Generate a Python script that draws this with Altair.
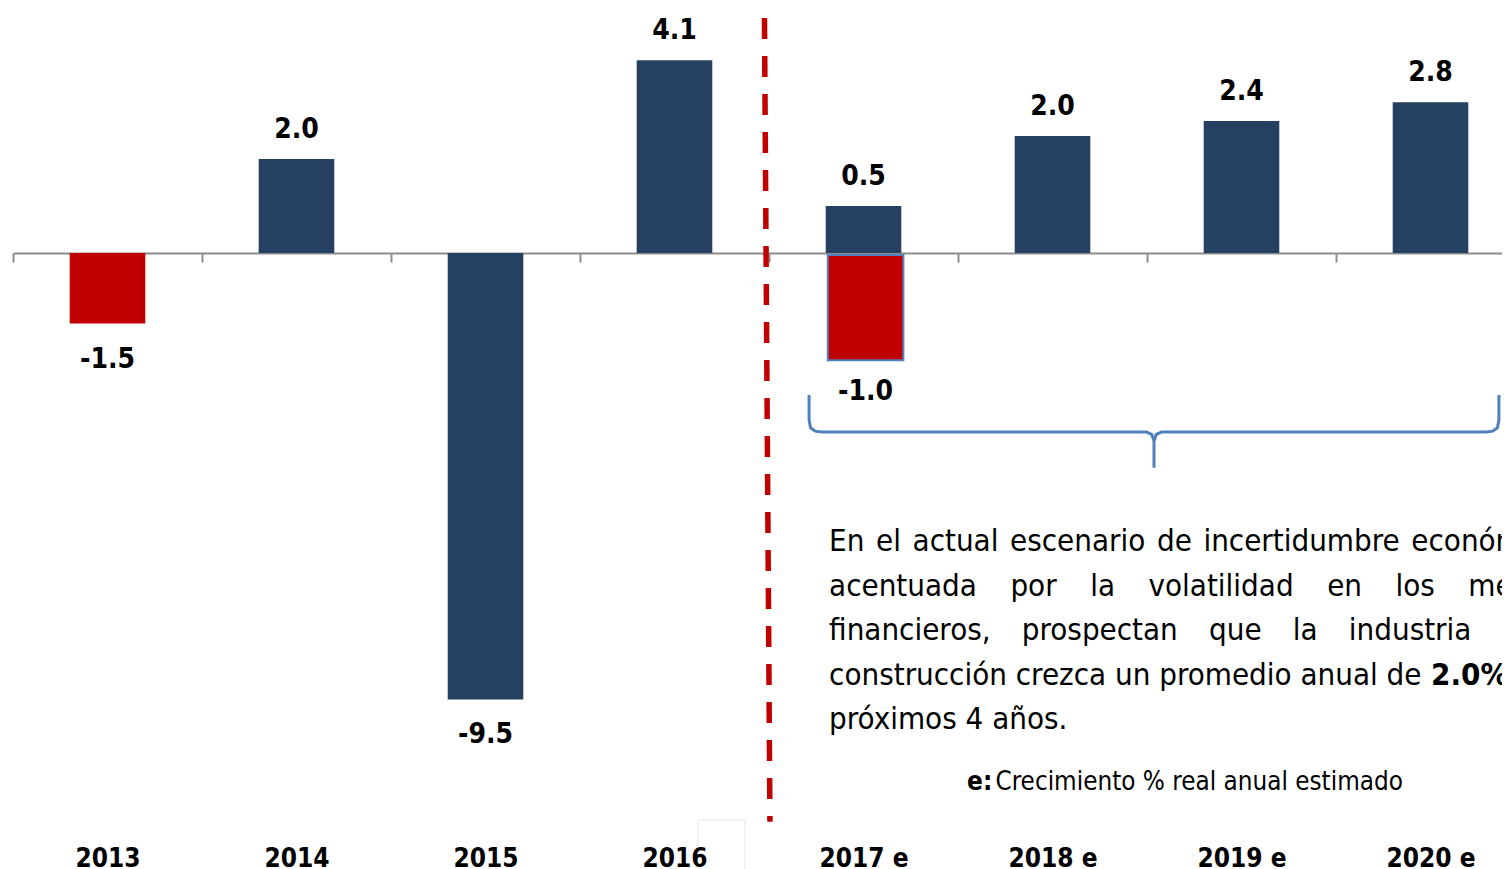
import json
import altair as alt
import pandas as pd

# ---------------- data ----------------
years = ["2013", "2014", "2015", "2016", "2017 e", "2018 e", "2019 e", "2020 e"]
label_values = [-1.5, 2.0, -9.5, 4.1, 0.5, 2.0, 2.4, 2.8]
# bar extents as drawn in the picture (same vertical scale for all bars)
bar_values = [-1.5, 2.0, -9.5, 4.1, 1.0, 2.49, 2.81, 3.21]
bar_colors = ["#C00000", "#264062", "#264062", "#264062",
              "#264062", "#264062", "#264062", "#264062"]

overlay_year = "2017 e"
overlay_top = -0.04
overlay_bottom = -2.28
overlay_label = -1.0

paragraph_lines = [
    "En el actual escenario de incertidumbre económica",
    "acentuada por la volatilidad en los mercados",
    "financieros, prospectan que la industria de la",
    "construcción crezca un promedio anual de",
    "próximos 4 años.",
]
paragraph_bold = "2.0%"
paragraph_tail = "en los"
note_bold = "e:"
note_text = "Crecimiento % real anual estimado"

# ---------------- style ----------------
FONT = "Liberation Sans Narrow, Arial Narrow, DejaVu Sans Condensed, sans-serif"
NAVY = "#264062"
RED = "#C00000"
BLUE = "#4F81BD"
# word gaps imitating the justified paragraph of the original
line_gaps = [" \u200a", " \u00a0\u00a0\u2005", " \u00a0\u00a0\u2006", " ", " "]

# ---------------- layout ----------------
STEP = 189.0
W, H = 1489, 830
YMIN, YMAX = -12.447, 5.213
XS = alt.Scale(domain=[0, W / STEP], nice=False, zero=False)
YS = alt.Scale(domain=[YMIN, YMAX], nice=False, zero=False)
zero_offset = -H * (0 - YMIN) / (YMAX - YMIN)

df = pd.DataFrame({
    "idx": list(range(len(years))),
    "year": years,
    "value": bar_values,
    "label": [f"{v:.1f}" for v in label_values],
    "color": bar_colors,
})
df["x0"] = df["idx"] + 0.3
df["x1"] = df["idx"] + 0.7
df["xc"] = df["idx"] + 0.5

label_expr = json.dumps(years) + "[round(datum.value - 0.5)]"

bars = alt.Chart(df).mark_bar().encode(
    x=alt.X("x0:Q", scale=XS, axis=alt.Axis(
        orient="bottom", zindex=2,
        values=[i + 0.5 for i in range(len(years))], labelExpr=label_expr,
        ticks=False, domain=False, grid=False, title=None, labelAngle=0,
        labelFont=FONT, labelFontSize=26, labelFontWeight="bold",
        labelColor="black", labelPadding=7, labelOverlap=False,
        labelFlush=False, labelBound=False)),
    x2="x1:Q",
    y=alt.Y("value:Q", scale=YS, axis=None),
    y2=alt.datum(0),
    color=alt.Color("color:N", scale=None),
)

pos_labels = alt.Chart(df).transform_filter("datum.value > 0").mark_text(
    dy=-21, baseline="alphabetic", font=FONT, fontSize=28, fontWeight="bold",
    color="black").encode(
    x=alt.X("xc:Q", scale=XS, axis=alt.Axis(
        orient="bottom",
        values=list(range(len(years) + 1)), labels=False, grid=False,
        title=None, offset=zero_offset, domainColor="#8c8c8c",
        domainWidth=2, tickColor="#8c8c8c", tickWidth=2, tickSize=9)),
    y=alt.Y("value:Q", scale=YS, axis=None),
    text="label:N",
)

neg_labels = alt.Chart(df).transform_filter("datum.value < 0").mark_text(
    dy=44, baseline="alphabetic", font=FONT, fontSize=28, fontWeight="bold",
    color="black").encode(
    x=alt.X("xc:Q", scale=XS, axis=None),
    y=alt.Y("value:Q", scale=YS, axis=None),
    text="label:N",
)

ov_idx = years.index(overlay_year)
ov = pd.DataFrame({"x0": [ov_idx + 0.311], "x1": [ov_idx + 0.711],
                   "xc": [ov_idx + 0.511],
                   "top": [overlay_top], "bottom": [overlay_bottom],
                   "label": [f"{overlay_label:.1f}"]})
overlay = alt.Chart(ov).mark_bar(color=RED, stroke=BLUE, strokeWidth=2).encode(
    x=alt.X("x0:Q", scale=XS, axis=None), x2="x1:Q",
    y=alt.Y("top:Q", scale=YS, axis=None), y2="bottom:Q",
)
overlay_text = alt.Chart(ov).mark_text(
    dy=40, baseline="alphabetic", font=FONT, fontSize=28, fontWeight="bold",
    color="black").encode(
    x=alt.X("xc:Q", scale=XS, axis=None),
    y=alt.Y("bottom:Q", scale=YS, axis=None),
    text="label:N",
)

# dashed separator between actual and estimated years
sep = pd.DataFrame({"x": [3.976, 4.005], "y": [5.0, -12.1], "o": [0, 1]})
separator = alt.Chart(sep).mark_line(
    color=RED, strokeWidth=5.5, strokeDash=[21, 17]).encode(
    x=alt.X("x:Q", scale=XS, axis=None),
    y=alt.Y("y:Q", scale=YS, axis=None), order="o:Q")

# brace under the estimated years
Lx, Rx, Mx = 4.212, 7.862, 6.037
bx = [Lx, Lx, Lx + 0.008, Lx + 0.033, Lx + 0.068, Mx - 0.04, Mx - 0.012, Mx, Mx,
      Mx, Mx + 0.012, Mx + 0.04, Rx - 0.068, Rx - 0.033, Rx - 0.008, Rx, Rx]
by = [-3.02, -3.55, -3.72, -3.79, -3.81, -3.81, -3.86, -4.0, -4.57,
      -4.0, -3.86, -3.81, -3.81, -3.79, -3.72, -3.55, -3.02]
brace_df = pd.DataFrame({"x": bx, "y": by, "o": list(range(len(bx)))})
brace = alt.Chart(brace_df).mark_line(color=BLUE, strokeWidth=3).encode(
    x=alt.X("x:Q", scale=XS, axis=None),
    y=alt.Y("y:Q", scale=YS, axis=None), order="o:Q")

# paragraph
para_text = "\n".join(l.replace(" ", g) for l, g in zip(paragraph_lines, line_gaps))
para_df = pd.DataFrame({"x": [4.318], "y": [-6.34], "t": [para_text]})
paragraph = alt.Chart(para_df).mark_text(
    align="left", baseline="alphabetic", font=FONT, fontSize=31,
    lineBreak="\n", lineHeight=44.6, color="black").encode(
    x=alt.X("x:Q", scale=XS, axis=None),
    y=alt.Y("y:Q", scale=YS, axis=None), text="t:N")

pb_df = pd.DataFrame({"x": [7.503], "y": [-9.187], "t": [paragraph_bold]})
para_bold = alt.Chart(pb_df).mark_text(
    align="left", baseline="alphabetic", font=FONT, fontSize=31,
    fontWeight="bold", color="black").encode(
    x=alt.X("x:Q", scale=XS, axis=None),
    y=alt.Y("y:Q", scale=YS, axis=None), text="t:N")

pt_df = pd.DataFrame({"x": [7.94], "y": [-9.187], "t": [paragraph_tail]})
para_tail = alt.Chart(pt_df).mark_text(
    align="left", baseline="alphabetic", font=FONT, fontSize=31,
    color="black").encode(
    x=alt.X("x:Q", scale=XS, axis=None),
    y=alt.Y("y:Q", scale=YS, axis=None), text="t:N")

nb_df = pd.DataFrame({"x": [5.048], "y": [-11.43], "t": [note_bold]})
note_b = alt.Chart(nb_df).mark_text(
    align="left", baseline="alphabetic", font=FONT, fontSize=26,
    fontWeight="bold", color="black").encode(
    x=alt.X("x:Q", scale=XS, axis=None),
    y=alt.Y("y:Q", scale=YS, axis=None), text="t:N")
nt_df = pd.DataFrame({"x": [5.198], "y": [-11.43], "t": [note_text]})
note_t = alt.Chart(nt_df).mark_text(
    align="left", baseline="alphabetic", font=FONT, fontSize=25.8,
    color="black").encode(
    x=alt.X("x:Q", scale=XS, axis=None),
    y=alt.Y("y:Q", scale=YS, axis=None), text="t:N")

box_df = pd.DataFrame({"x0": [3.624], "x1": [3.873], "y0": [-12.06], "y1": [-13.5]})
box = alt.Chart(box_df).mark_rect(fill="white", stroke="#e6e6e6", strokeWidth=1).encode(
    x=alt.X("x0:Q", scale=XS, axis=None), x2="x1:Q",
    y=alt.Y("y0:Q", scale=YS, axis=None), y2="y1:Q")

chart = alt.layer(
    pos_labels, bars, neg_labels, overlay, overlay_text, separator, brace,
    paragraph, para_bold, para_tail, note_b, note_t, box,
).resolve_axis(x="independent").properties(
    width=W, height=H,
    autosize=alt.AutoSizeParams(type="none"),
    padding={"left": 5, "top": 0, "right": 0, "bottom": 31},
    background="white",
).configure_view(strokeWidth=0)

chart.save("out.html", embed_options={"renderer": "svg", "actions": False})
